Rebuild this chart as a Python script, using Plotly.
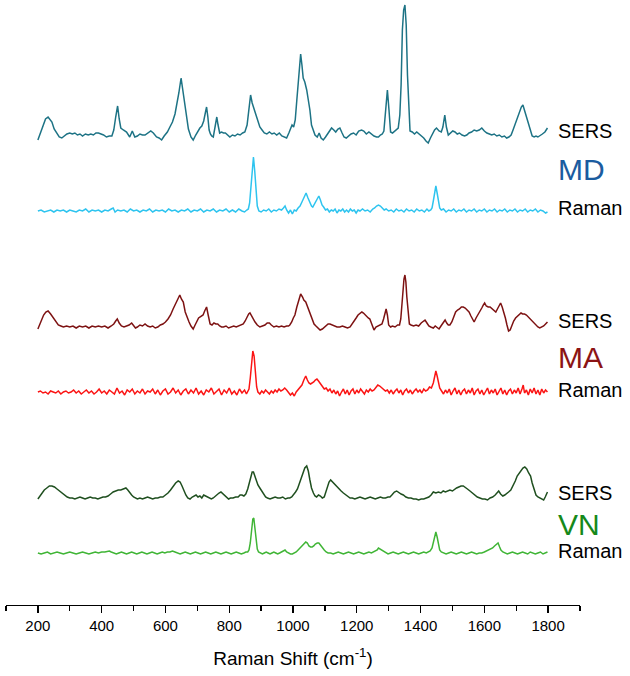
import plotly.graph_objects as go

# ---------------- data (x in cm-1, intensity in arbitrary units) ----------------
MD_SERS = [(200,-5),(208,2),(216,10),(224,16),(232,18),(238,16),(244,13),(251,6),(259,2),(267,-2),(275,-3),(283,-1),(291,1),(300,2),(308,1),(316,2),(324,0),(332,1),(340,-1),(349,1),(358,0),(366,1),(374,0),(382,2),(390,2),(398,1),(406,0),(415,-2),(424,-1),(432,-1),(438,5),(444,18),(450,29),(455,16),(460,7),(468,5),(478,3),(488,-2),(496,4),(504,-2),(512,-1),(520,1),(528,0),(536,0),(545,2),(554,4),(562,2),(572,-2),(580,-3),(588,-5),(596,-1),(606,3),(614,8),(622,13),(630,21),(636,30),(642,42),(649,57),(654,45),(660,30),(666,15),(672,6),(680,-2),(687,-5),(695,0),(702,4),(708,7),(714,9),(720,14),(725,22),(729,28),(733,18),(737,5),(741,1),(745,-1),(750,-2),(755,6),(761,18),(765,10),(770,2),(776,3),(782,2),(788,2),(795,0),(802,-2),(810,0),(818,-1),(826,1),(834,0),(842,2),(849,3),(856,10),(861,25),(867,40),(872,32),(878,26),(884,20),(890,12),(896,8),(903,5),(910,2),(918,1),(926,3),(934,1),(941,2),(949,0),(957,2),(965,-1),(973,-2),(980,-3),(987,2),(992,6),(997,10),(1002,8),(1007,15),(1012,35),(1018,60),(1024,81),(1028,70),(1032,57),(1037,53),(1043,45),(1048,35),(1053,25),(1058,10),(1064,4),(1069,0),(1076,-2),(1082,2),(1088,-3),(1095,-5),(1102,-2),(1108,1),(1114,4),(1121,7),(1128,5),(1134,3),(1141,6),(1147,7),(1154,2),(1160,-2),(1167,-3),(1174,-1),(1182,1),(1190,2),(1198,0),(1206,4),(1215,5),(1222,4),(1230,1),(1238,3),(1246,1),(1254,-1),(1262,-2),(1268,-2),(1274,0),(1280,1),(1285,4),(1290,25),(1296,45),(1301,25),(1306,3),(1312,2),(1318,4),(1324,6),(1330,7),(1335,20),(1339,50),(1343,105),(1347,125),(1351,130),(1355,110),(1359,60),(1363,25),(1367,4),(1374,3),(1381,1),(1388,3),(1395,1),(1402,0),(1410,-3),(1417,-6),(1424,-8),(1431,-3),(1438,2),(1444,5),(1450,7),(1458,4),(1465,3),(1470,8),(1476,20),(1481,8),(1487,0),(1494,2),(1501,4),(1508,3),(1515,1),(1522,2),(1530,0),(1538,-1),(1545,0),(1552,2),(1560,3),(1568,5),(1576,4),(1584,5),(1592,7),(1600,4),(1608,2),(1616,1),(1623,0),(1631,1),(1639,-1),(1647,0),(1655,-2),(1663,-1),(1670,-3),(1677,-2),(1684,0),(1690,5),(1697,11),(1704,16),(1710,22),(1716,28),(1721,30),(1726,25),(1732,18),(1738,12),(1744,5),(1750,-1),(1756,-2),(1762,-1),(1768,-2),(1775,0),(1782,1),(1790,3),(1798,7)]

MD_RAMAN = [(200,0),(210,1),(220,-1),(230,0),(240,1),(250,-1),(260,1),(270,0),(280,1),(290,-1),(300,1),(310,0),(320,-1),(330,1),(340,0),(350,2),(360,-1),(370,1),(380,0),(390,1),(400,-1),(410,1),(420,0),(430,2),(436,3),(442,-1),(450,1),(460,0),(470,1),(480,-1),(490,2),(500,0),(510,1),(520,-1),(530,1),(540,0),(550,2),(560,-1),(570,1),(580,0),(590,1),(600,-1),(610,2),(620,0),(630,1),(640,-1),(650,1),(660,0),(670,2),(680,-1),(690,1),(700,0),(710,2),(720,-1),(730,1),(740,0),(750,2),(760,-1),(770,1),(780,0),(790,2),(800,-1),(810,1),(820,-1),(830,2),(840,0),(848,-1),(855,1),(860,2),(864,8),(868,25),(872,45),(876,54),(880,40),(884,18),(888,5),(893,0),(900,-1),(908,1),(916,0),(924,2),(932,-1),(940,1),(948,0),(956,2),(964,1),(970,3),(975,5),(980,1),(986,-2),(992,1),(998,-3),(1004,1),(1010,0),(1016,3),(1022,5),(1028,9),(1034,14),(1041,18),(1047,13),(1053,8),(1058,5),(1062,4),(1067,7),(1072,11),(1077,14),(1081,15),(1086,11),(1091,6),(1096,4),(1102,1),(1108,2),(1114,-1),(1120,1),(1126,0),(1132,2),(1138,-2),(1144,1),(1150,0),(1156,2),(1162,-1),(1168,1),(1174,-1),(1180,2),(1186,0),(1192,1),(1198,-2),(1204,1),(1210,0),(1218,2),(1226,0),(1234,1),(1242,-1),(1250,2),(1256,3),(1262,5),(1268,6),(1274,5),(1280,3),(1286,1),(1292,2),(1300,0),(1308,1),(1316,-1),(1324,2),(1332,0),(1340,1),(1348,-1),(1356,2),(1364,0),(1372,1),(1380,-1),(1388,2),(1396,0),(1404,1),(1412,-1),(1420,2),(1426,0),(1432,1),(1436,3),(1440,10),(1444,20),(1448,25),(1452,18),(1456,8),(1460,3),(1465,1),(1472,2),(1480,-1),(1488,1),(1496,0),(1504,2),(1512,-1),(1520,1),(1528,0),(1536,2),(1544,-1),(1552,1),(1560,0),(1568,2),(1576,-1),(1584,1),(1592,0),(1600,2),(1608,-1),(1616,1),(1624,0),(1632,2),(1640,-1),(1648,1),(1656,0),(1664,2),(1672,-1),(1680,1),(1688,0),(1696,2),(1704,-1),(1712,1),(1720,0),(1728,2),(1736,-1),(1744,1),(1752,0),(1760,2),(1768,-1),(1776,1),(1784,0),(1792,-2),(1798,-1)]

MA_SERS = [(200,-2),(206,3),(212,8),(218,12),(225,15),(232,16),(240,13),(248,9),(256,5),(264,2),(272,1),(280,0),(290,1),(300,0),(310,1),(320,-1),(330,1),(340,0),(350,1),(360,-1),(370,1),(380,0),(390,1),(400,0),(410,1),(420,-1),(430,1),(438,3),(444,6),(449,8),(455,4),(462,1),(470,0),(478,1),(486,2),(494,4),(500,1),(506,-1),(512,0),(520,2),(528,1),(536,3),(544,1),(552,0),(560,1),(568,-1),(576,0),(584,2),(592,3),(600,5),(608,8),(616,12),(624,18),(630,22),(636,26),(641,30),(645,32),(650,28),(656,25),(662,15),(668,9),(674,5),(680,1),(687,-2),(693,2),(699,6),(704,9),(708,10),(713,11),(718,12),(723,16),(729,20),(734,12),(740,3),(746,2),(752,4),(758,3),(764,3),(770,1),(776,0),(782,0),(790,1),(798,-1),(806,0),(814,1),(822,0),(830,1),(838,2),(844,3),(850,6),(856,10),(861,13),(865,14),(870,11),(876,7),(881,5),(888,2),(896,0),(904,1),(912,2),(919,4),(926,4),(932,2),(940,0),(948,1),(956,0),(964,1),(972,0),(980,1),(986,1),(990,2),(996,5),(1001,9),(1006,12),(1012,20),(1018,28),(1024,33),(1030,30),(1034,27),(1040,25),(1046,20),(1053,15),(1060,8),(1066,3),(1072,1),(1078,-1),(1085,-3),(1092,-2),(1098,0),(1104,2),(1110,3),(1116,3),(1122,2),(1130,1),(1138,0),(1147,0),(1155,1),(1163,0),(1171,-1),(1179,0),(1186,3),(1192,6),(1198,9),(1204,12),(1210,14),(1216,15),(1221,14),(1226,12),(1231,11),(1236,9),(1241,8),(1246,4),(1250,-1),(1254,-3),(1260,0),(1266,1),(1273,2),(1279,3),(1284,8),(1288,15),(1292,18),(1296,12),(1300,2),(1306,0),(1312,1),(1320,0),(1328,2),(1334,2),(1338,8),(1341,20),(1345,38),(1348,48),(1351,52),(1354,45),(1357,30),(1361,12),(1365,3),(1370,2),(1378,1),(1386,2),(1394,1),(1402,4),(1408,6),(1414,7),(1420,4),(1426,1),(1432,0),(1440,-1),(1446,1),(1452,-1),(1458,-2),(1464,1),(1470,4),(1477,7),(1482,4),(1487,2),(1492,2),(1498,5),(1504,10),(1510,15),(1516,17),(1522,18),(1528,20),(1534,20),(1540,19),(1546,17),(1552,15),(1558,11),(1563,7),(1568,5),(1574,9),(1580,12),(1586,15),(1592,19),(1597,22),(1601,24),(1606,21),(1612,20),(1618,20),(1624,18),(1630,17),(1636,15),(1641,18),(1646,22),(1651,24),(1656,20),(1661,15),(1666,9),(1671,2),(1676,-4),(1681,-3),(1686,2),(1692,6),(1698,9),(1704,11),(1710,12),(1715,14),(1720,13),(1726,13),(1732,12),(1738,10),(1744,8),(1750,6),(1756,3),(1762,1),(1768,0),(1774,-1),(1780,0),(1786,1),(1792,3),(1798,5)]

MA_RAMAN = [(200,0),(208,1),(216,-1),(224,0),(232,-2),(240,1),(248,0),(256,-1),(264,1),(272,-2),(280,0),(288,1),(296,-1),(304,0),(312,2),(320,-1),(328,1),(336,-2),(344,0),(352,2),(360,-1),(368,1),(376,-2),(384,0),(392,3),(400,-1),(408,1),(416,-2),(424,2),(432,0),(440,-2),(448,4),(456,-1),(464,1),(472,-3),(480,2),(488,0),(496,3),(504,-2),(512,1),(520,-1),(528,3),(536,-2),(544,1),(552,0),(560,3),(568,-2),(576,2),(584,-3),(592,1),(600,3),(608,-2),(616,0),(624,4),(632,-1),(640,2),(648,-3),(656,1),(664,3),(672,-2),(680,2),(688,-1),(696,4),(704,-2),(712,1),(720,-3),(728,2),(736,0),(744,4),(752,-2),(760,1),(768,3),(776,-3),(784,2),(792,-1),(800,4),(808,-2),(816,1),(824,-3),(832,3),(840,-1),(848,2),(854,-2),(858,1),(862,3),(866,14),(870,30),(874,41),(878,36),(882,18),(886,5),(890,0),(896,-2),(902,1),(908,-1),(914,2),(920,0),(926,-2),(932,1),(938,-1),(944,2),(950,0),(956,3),(962,1),(968,2),(974,4),(980,2),(986,-1),(992,-3),(998,-1),(1004,-4),(1010,0),(1016,2),(1022,4),(1028,7),(1034,12),(1040,16),(1045,12),(1050,9),(1055,8),(1060,9),(1065,10),(1070,12),(1075,13),(1080,11),(1086,8),(1092,5),(1098,3),(1104,4),(1110,1),(1116,3),(1122,-1),(1128,2),(1134,-2),(1140,1),(1146,-4),(1152,0),(1158,3),(1164,-2),(1170,2),(1176,-3),(1182,1),(1188,3),(1194,-2),(1200,2),(1206,-1),(1212,3),(1218,0),(1224,-2),(1230,2),(1236,0),(1242,3),(1248,1),(1254,2),(1260,4),(1266,7),(1272,6),(1278,4),(1284,3),(1290,1),(1296,2),(1302,-1),(1308,2),(1314,-2),(1320,1),(1326,3),(1332,-1),(1338,2),(1344,-3),(1350,1),(1356,3),(1362,-1),(1368,2),(1374,-2),(1380,1),(1386,3),(1392,0),(1398,2),(1404,-1),(1410,3),(1416,1),(1422,2),(1428,5),(1434,4),(1440,9),(1444,15),(1448,21),(1452,16),(1456,9),(1460,4),(1466,1),(1472,-2),(1478,2),(1484,-1),(1490,3),(1496,-3),(1502,1),(1508,4),(1514,-2),(1520,2),(1526,-3),(1532,1),(1538,3),(1544,-2),(1550,2),(1556,-1),(1562,4),(1568,-3),(1574,1),(1580,3),(1586,-2),(1592,2),(1598,-3),(1604,1),(1610,4),(1616,-2),(1622,2),(1628,-1),(1634,3),(1640,-3),(1646,1),(1652,4),(1658,-2),(1664,2),(1670,-3),(1676,1),(1682,3),(1688,-2),(1694,2),(1700,-1),(1706,4),(1712,-2),(1718,3),(1722,7),(1726,-1),(1732,2),(1738,-3),(1744,3),(1750,-1),(1756,4),(1762,-2),(1768,2),(1774,-3),(1780,3),(1786,-1),(1792,2),(1798,0)]

VN_SERS = [(200,-1),(206,2),(212,5),(220,8),(228,10),(236,12),(244,12),(252,11),(260,9),(268,7),(276,5),(284,3),(292,1),(300,0),(308,0),(316,-1),(324,0),(332,1),(340,0),(348,-1),(356,0),(364,1),(372,0),(380,0),(388,-1),(396,0),(404,1),(412,1),(420,2),(428,4),(436,6),(444,7),(452,8),(460,8),(468,9),(476,10),(482,8),(488,5),(494,3),(500,1),(506,0),(512,-1),(520,0),(528,-1),(536,0),(544,1),(552,0),(560,-1),(568,0),(576,0),(584,1),(592,1),(600,3),(608,5),(616,8),(624,12),(632,15),(640,17),(646,16),(652,12),(658,7),(664,3),(670,0),(677,-1),(684,1),(690,2),(696,3),(702,1),(708,2),(714,0),(720,3),(726,2),(732,1),(738,0),(744,-1),(750,0),(756,2),(762,4),(768,5),(774,6),(780,4),(786,2),(792,0),(798,-1),(804,0),(812,0),(820,1),(828,1),(834,3),(840,3),(846,2),(852,4),(858,9),(863,15),(868,22),(872,26),(876,26),(880,22),(885,17),(890,13),(896,10),(902,7),(908,3),(914,1),(920,0),(928,-1),(936,0),(944,1),(952,0),(960,0),(968,1),(976,-1),(984,0),(990,0),(996,1),(1002,3),(1008,6),(1014,9),(1020,14),(1026,20),(1032,25),(1037,30),(1043,32),(1048,27),(1053,18),(1058,10),(1064,5),(1069,2),(1074,1),(1080,3),(1086,2),(1092,0),(1098,1),(1103,6),(1108,12),(1113,16),(1118,18),(1124,16),(1130,13),(1137,11),(1144,9),(1151,7),(1158,5),(1165,3),(1172,1),(1179,0),(1186,0),(1194,-1),(1202,0),(1210,1),(1218,0),(1226,-1),(1234,0),(1242,1),(1250,0),(1258,-1),(1266,0),(1274,1),(1282,0),(1290,0),(1298,1),(1304,1),(1310,3),(1318,6),(1325,7),(1332,5),(1339,4),(1346,3),(1354,1),(1362,0),(1370,0),(1378,-1),(1386,-1),(1394,-2),(1402,-1),(1410,-1),(1418,0),(1426,1),(1433,3),(1440,6),(1448,5),(1456,6),(1464,5),(1471,7),(1478,6),(1485,7),(1492,8),(1500,7),(1507,9),(1513,10),(1520,11),(1527,12),(1534,12),(1540,11),(1547,9),(1555,7),(1562,5),(1570,3),(1578,1),(1586,0),(1594,-1),(1602,-1),(1610,-2),(1618,0),(1626,1),(1634,3),(1640,5),(1645,7),(1651,4),(1658,2),(1664,3),(1670,5),(1676,6),(1683,8),(1690,12),(1697,17),(1703,22),(1709,25),(1715,28),(1721,30),(1727,31),(1733,29),(1739,25),(1745,22),(1750,15),(1756,8),(1762,3),(1768,1),(1775,0),(1781,-1),(1786,-2),(1791,1),(1795,4),(1798,6)]

VN_RAMAN = [(200,0),(210,-1),(220,0),(230,1),(240,-1),(250,0),(260,1),(270,0),(280,-1),(290,0),(300,1),(310,0),(320,-1),(330,0),(340,1),(350,0),(360,-1),(370,0),(380,1),(390,0),(400,1),(410,1),(418,2),(424,2),(430,1),(438,0),(446,-1),(454,0),(462,1),(470,0),(478,-1),(486,0),(494,1),(502,0),(510,-1),(518,0),(526,1),(534,0),(542,-1),(550,0),(558,1),(566,0),(574,-1),(582,0),(590,1),(598,0),(606,1),(614,1),(622,2),(630,1),(638,0),(646,-1),(654,0),(662,1),(670,0),(678,-1),(686,0),(694,1),(702,0),(710,-1),(718,0),(726,1),(734,0),(742,-1),(750,0),(758,1),(766,0),(774,-1),(782,0),(790,1),(798,0),(806,-1),(814,0),(822,1),(830,0),(838,-1),(846,0),(852,1),(858,1),(862,3),(866,10),(870,25),(874,34),(877,35),(880,25),(884,12),(888,4),(892,1),(898,0),(904,-1),(910,0),(916,1),(922,0),(928,-1),(934,0),(940,1),(946,0),(952,-1),(958,0),(964,1),(970,2),(975,3),(980,1),(986,0),(992,-1),(998,-1),(1004,0),(1010,1),(1016,3),(1022,5),(1028,7),(1034,9),(1040,11),(1045,10),(1050,7),(1055,6),(1060,6),(1065,7),(1070,9),(1076,10),(1081,10),(1086,8),(1092,5),(1098,3),(1104,1),(1110,0),(1118,0),(1126,-1),(1134,0),(1142,1),(1150,0),(1158,-1),(1166,0),(1174,1),(1182,0),(1190,-1),(1198,0),(1206,1),(1214,0),(1222,-1),(1230,0),(1238,1),(1246,0),(1252,1),(1258,2),(1264,3),(1268,5),(1273,4),(1278,3),(1284,1),(1290,0),(1298,-1),(1306,0),(1314,1),(1322,0),(1330,-1),(1338,0),(1346,1),(1354,0),(1362,-1),(1370,0),(1378,1),(1386,0),(1394,-1),(1402,0),(1410,1),(1418,0),(1424,1),(1430,2),(1436,5),(1440,10),(1444,17),(1448,21),(1452,16),(1456,8),(1460,3),(1465,1),(1472,0),(1480,-1),(1488,0),(1496,1),(1504,0),(1512,-1),(1520,0),(1528,1),(1536,0),(1544,-1),(1552,0),(1560,1),(1568,0),(1576,-1),(1584,0),(1592,0),(1600,1),(1607,2),(1614,3),(1620,4),(1626,5),(1632,7),(1638,9),(1643,10),(1648,6),(1652,3),(1658,1),(1664,0),(1672,-1),(1680,0),(1688,1),(1696,0),(1704,-1),(1712,0),(1720,1),(1728,0),(1736,-1),(1744,1),(1752,0),(1760,-1),(1768,0),(1776,1),(1784,-1),(1792,0),(1798,1)]

SERIES = [MD_SERS, MD_RAMAN, MA_SERS, MA_RAMAN, VN_SERS, VN_RAMAN]
OFFSETS = [470, 394, 278, 213, 107, 52]          # vertical stacking offsets
COLORS = ["#1d7385", "#2ec4ef", "#7d1212", "#fb1414", "#1f4f1f", "#40b536"]

GROUPS = ["MD", "MA", "VN"]
GROUP_COLORS = ["#1b5c9f", "#8c1414", "#16891a"]
LABEL_Y = [(474, 436, 397), (284, 248, 215), (112, 81, 54)]  # SERS, group, Raman

TICKS = [200, 400, 600, 800, 1000, 1200, 1400, 1600, 1800]

FONT = "Liberation Sans, Arial, Helvetica, sans-serif"

fig = go.Figure()
for pts, off, col in zip(SERIES, OFFSETS, COLORS):
    xs = [p[0] for p in pts]
    ys = [p[1] + off for p in pts]
    fig.add_trace(go.Scatter(x=xs, y=ys, mode="lines",
                             line=dict(color=col, width=1.5),
                             showlegend=False, hoverinfo="skip"))

ann = []
for g, gc, (ys, yg, yr) in zip(GROUPS, GROUP_COLORS, LABEL_Y):
    ann.append(dict(text="SERS", x=0.958, xref="paper", y=ys, yref="y",
                    xanchor="left", yanchor="middle", showarrow=False,
                    font=dict(family=FONT, size=20, color="black")))
    ann.append(dict(text=g, x=0.958, xref="paper", y=yg, yref="y",
                    xanchor="left", yanchor="middle", showarrow=False,
                    font=dict(family=FONT, size=30, color=gc)))
    ann.append(dict(text="Raman", x=0.958, xref="paper", y=yr, yref="y",
                    xanchor="left", yanchor="middle", showarrow=False,
                    font=dict(family=FONT, size=20, color="black")))

fig.update_layout(
    width=630, height=676,
    margin=dict(l=6, r=50, t=0, b=71),
    paper_bgcolor="white", plot_bgcolor="white",
    annotations=ann,
    xaxis=dict(range=[100, 1900], tickvals=TICKS, ticktext=[str(t) for t in TICKS],
               showline=True, linecolor="black", linewidth=1.3,
               ticks="outside", ticklen=7, tickwidth=1.3, tickcolor="black",
               minor=dict(tickvals=[100, 300, 500, 700, 900, 1100, 1300, 1500, 1700, 1900],
                          ticks="outside", ticklen=5, tickwidth=1.3, tickcolor="black"),
               showgrid=False, zeroline=False,
               tickfont=dict(family=FONT, size=15, color="black"),
               title=dict(text="Raman Shift (cm<sup>-1</sup>)", standoff=18,
                          font=dict(family=FONT, size=19, color="black"))),
    yaxis=dict(range=[0, 605], visible=False, showgrid=False, zeroline=False),
)

fig.write_html("out.html",
               config={"displayModeBar": False, "staticPlot": True},
               post_script="document.body.style.margin='0';document.body.style.padding='0';")
